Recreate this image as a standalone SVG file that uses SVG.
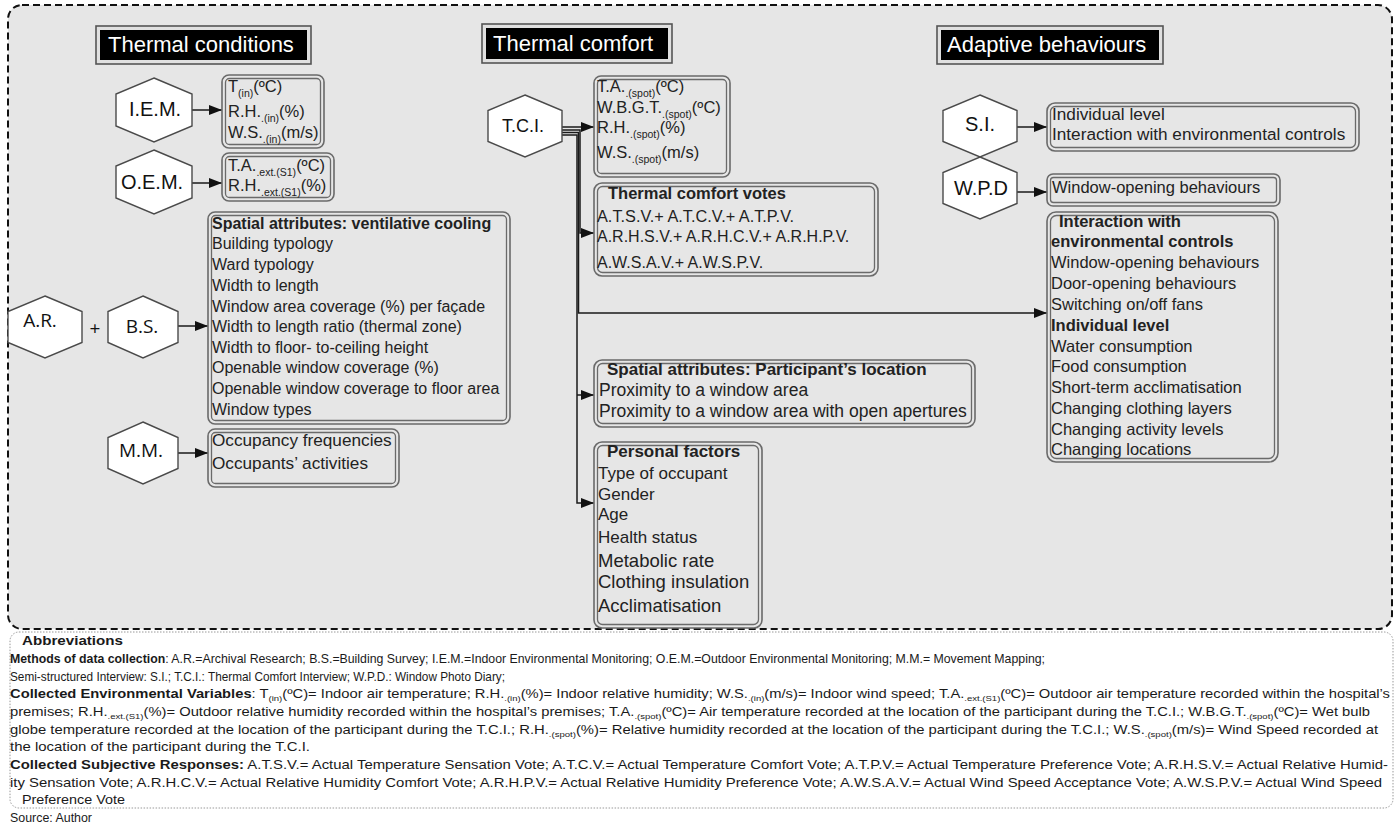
<svg xmlns="http://www.w3.org/2000/svg" width="1396" height="827" viewBox="0 0 1396 827">
<defs>
<marker id="arr" markerUnits="userSpaceOnUse" markerWidth="13" markerHeight="10" refX="13" refY="5" orient="auto">
<path d="M0,0 L13,5 L0,10 z" fill="#111"/>
</marker>
<style>
.hex{fill:#fff;stroke:#4a4a4a;stroke-width:1.4}
.bo{fill:#e6e6e6;stroke:#6a6a6a;stroke-width:1.6}
.bi{fill:none;stroke:#6a6a6a;stroke-width:1.3}
.to{fill:#e0e0e0;stroke:#555;stroke-width:1.6}
.ti{fill:#000}
.tt{font-family:"Liberation Sans",Arial,sans-serif;font-size:22px;fill:#fff}
.t{font-family:"Liberation Sans",Arial,sans-serif;font-size:16.5px;fill:#222}
.b{font-weight:bold}
.h{font-family:"Liberation Sans",Arial,sans-serif;font-size:20px;fill:#111;text-anchor:middle}
.ho{font-family:"Open Sans","Liberation Sans",sans-serif;font-size:19px;fill:#111;text-anchor:middle}
.con{fill:none;stroke:#1a1a1a;stroke-width:1.5}
.ab{font-family:"Liberation Sans",Arial,sans-serif;font-size:12.4px;fill:#1a1a1a}
.sub{font-size:8px}
.s{font-size:10.5px}
</style>
</defs>
<rect x="0" y="0" width="1396" height="827" fill="#fff"/>
<rect x="8" y="5" width="1384" height="624" rx="14" fill="#e6e6e6" stroke="#111" stroke-width="2" stroke-dasharray="7 4"/>
<rect x="10" y="632" width="1383" height="176" rx="9" fill="#fff" stroke="#999" stroke-width="1" stroke-dasharray="1.5 1.5"/>

<g id="title-thermal-conditions"><rect class="to" x="96" y="26" width="215" height="38"/><rect class="ti" x="100" y="30" width="207" height="30"/><text class="tt" x="108" y="52">Thermal conditions</text></g>
<g id="title-thermal-comfort"><rect class="to" x="482" y="24" width="190" height="39"/><rect class="ti" x="486" y="28" width="182" height="31"/><text class="tt" x="493" y="51">Thermal comfort</text></g>
<g id="title-adaptive"><rect class="to" x="937" y="26" width="226" height="38"/><rect class="ti" x="941" y="30" width="218" height="30"/><text class="tt" x="947" y="52">Adaptive behaviours</text></g>

<g id="connectors">
<path class="con" d="M192,110 H222" marker-end="url(#arr)"/>
<path class="con" d="M192,183 H222" marker-end="url(#arr)"/>
<path class="con" d="M178,326 H208" marker-end="url(#arr)"/>
<path class="con" d="M178,453 H208" marker-end="url(#arr)"/>
<path class="con" d="M562,127 H594" marker-end="url(#arr)"/>
<path class="con" d="M562,130 H580 V233 H594" marker-end="url(#arr)"/>
<path class="con" d="M562,132.5 H578.5 V313 H1047" marker-end="url(#arr)"/>
<path class="con" d="M562,135 H577 V503 H594" marker-end="url(#arr)"/>
<path class="con" d="M577,395 H594" marker-end="url(#arr)"/>
<path class="con" d="M1017,127 H1047" marker-end="url(#arr)"/>
<path class="con" d="M1017,192 H1047" marker-end="url(#arr)"/>
</g>

<g id="iem"><polygon class="hex" points="154,78 192,94 192,126 154,142 116,126 116,94"/><text class="h" x="155" y="116">I.E.M.</text></g>
<g id="oem"><polygon class="hex" points="154,150 192,166 192,198 154,214 116,198 116,166"/><text class="h" x="152" y="189">O.E.M.</text></g>
<g id="ar"><polygon class="hex" points="45,296 82,311.5 82,342.5 45,358 8,342.5 8,311.5"/><text class="ho" x="40" y="327">A.R.</text></g>
<text class="ho" x="95" y="335">+</text>
<g id="bs"><polygon class="hex" points="143,296 178,311.5 178,342.5 143,358 108,342.5 108,311.5"/><text class="ho" x="142" y="333">B.S.</text></g>
<g id="mm"><polygon class="hex" points="143,422 178,437.5 178,468.5 143,484 108,468.5 108,437.5"/><text class="ho" x="141" y="457">M.M.</text></g>
<g id="tci"><polygon class="hex" points="525,95 562,110.5 562,141.5 525,157 488,141.5 488,110.5"/><text class="h" style="font-size:18px" x="523" y="132">T.C.I.</text></g>
<g id="si"><polygon class="hex" points="980,95 1017,110.5 1017,141.5 980,157 943,141.5 943,110.5"/><text class="h" x="980" y="131">S.I.</text></g>
<g id="wpd"><polygon class="hex" points="980,157 1017,172.5 1017,203.5 980,219 943,203.5 943,172.5"/><text class="h" x="981" y="195">W.P.D</text></g>

<g id="iem-box"><rect class="bo" x="222" y="75" width="102" height="73" rx="7"/><rect class="bi" x="225.5" y="78.5" width="95" height="66" rx="4"/>
<text class="t" x="228" y="92">T<tspan class="s" dy="5">(in)</tspan><tspan dy="-5">(ºC)</tspan></text>
<text class="t" x="228" y="117">R.H.<tspan class="s" dy="5">.(in)</tspan><tspan dy="-5">(%)</tspan></text>
<text class="t" x="228" y="138">W.S.<tspan class="s" dy="5">.(in)</tspan><tspan dy="-5">(m/s)</tspan></text></g>

<g id="oem-box"><rect class="bo" x="222" y="153" width="112" height="48" rx="7"/><rect class="bi" x="225.5" y="156.5" width="105" height="41" rx="4"/>
<text class="t" x="228" y="171">T.A.<tspan class="s" dy="5">.ext.(S1)</tspan><tspan dy="-5">(ºC)</tspan></text>
<text class="t" x="228" y="191">R.H.<tspan class="s" dy="5">.ext.(S1)</tspan><tspan dy="-5">(%)</tspan></text></g>

<g id="spatial-box"><rect class="bo" x="208" y="212" width="302" height="212" rx="7"/><rect class="bi" x="211.5" y="215.5" width="295" height="205" rx="4"/>
<text class="t b" style="font-size:16px" x="212" y="229">Spatial attributes: ventilative cooling</text>
<text class="t" style="font-size:16px" x="212" y="249">Building typology</text>
<text class="t" style="font-size:16px" x="212" y="270">Ward typology</text>
<text class="t" style="font-size:16px" x="212" y="291">Width to length</text>
<text class="t" style="font-size:16px" x="212" y="312">Window area coverage (%) per façade</text>
<text class="t" style="font-size:16px" x="212" y="332">Width to length ratio (thermal zone)</text>
<text class="t" style="font-size:16px" x="212" y="353">Width to floor- to-ceiling height</text>
<text class="t" style="font-size:16px" x="212" y="373">Openable window coverage (%)</text>
<text class="t" style="font-size:16px" x="212" y="394">Openable window coverage to floor area</text>
<text class="t" style="font-size:16px" x="212" y="415">Window types</text></g>

<g id="mm-box"><rect class="bo" x="208" y="429" width="191" height="58" rx="7"/><rect class="bi" x="211.5" y="432.5" width="184" height="51" rx="4"/>
<text class="t" style="font-size:17.2px" x="212" y="446">Occupancy frequencies</text>
<text class="t" style="font-size:17.2px" x="212" y="469">Occupants’ activities</text></g>

<g id="spot-box"><rect class="bo" x="594" y="76" width="136" height="101" rx="7"/><rect class="bi" x="597.5" y="79.5" width="129" height="94" rx="4"/>
<text class="t" x="597" y="92">T.A.<tspan class="s" dy="5">.(spot)</tspan><tspan dy="-5">(ºC)</tspan></text>
<text class="t" x="597" y="113">W.B.G.T.<tspan class="s" dy="5">.(spot)</tspan><tspan dy="-5">(ºC)</tspan></text>
<text class="t" x="597" y="133">R.H.<tspan class="s" dy="5">.(spot)</tspan><tspan dy="-5">(%)</tspan></text>
<text class="t" x="597" y="158">W.S.<tspan class="s" dy="5">.(spot)</tspan><tspan dy="-5">(m/s)</tspan></text></g>

<g id="votes-box"><rect class="bo" x="594" y="183" width="284" height="93" rx="8"/><rect class="bi" x="597.5" y="186.5" width="277" height="86" rx="5"/>
<text class="t b" x="608" y="199">Thermal comfort votes</text>
<text class="t" style="font-size:16.3px" x="597" y="222">A.T.S.V.+ A.T.C.V.+ A.T.P.V.</text>
<text class="t" style="font-size:16px" x="597" y="242">A.R.H.S.V.+ A.R.H.C.V.+ A.R.H.P.V.</text>
<text class="t" style="font-size:16px" x="597" y="268">A.W.S.A.V.+ A.W.S.P.V.</text></g>

<g id="location-box"><rect class="bo" x="594" y="360" width="381" height="67" rx="8"/><rect class="bi" x="597.5" y="363.5" width="374" height="60" rx="5"/>
<text class="t b" style="font-size:17px" x="607" y="375">Spatial attributes: Participant’s location</text>
<text class="t" style="font-size:17.5px" x="599" y="396">Proximity to a window area</text>
<text class="t" style="font-size:17.5px" x="599" y="417">Proximity to a window area with open apertures</text></g>

<g id="personal-box"><rect class="bo" x="594" y="442" width="168" height="186" rx="8"/><rect class="bi" x="597.5" y="445.5" width="161" height="179" rx="5"/>
<text class="t b" style="font-size:17px" x="607" y="457">Personal factors</text>
<text class="t" style="font-size:17px" x="598" y="479">Type of occupant</text>
<text class="t" style="font-size:17px" x="598" y="500">Gender</text>
<text class="t" style="font-size:17px" x="598" y="520">Age</text>
<text class="t" style="font-size:17px" x="598" y="543">Health status</text>
<text class="t" style="font-size:18.5px" x="598" y="567">Metabolic rate</text>
<text class="t" style="font-size:18.5px" x="598" y="588">Clothing insulation</text>
<text class="t" style="font-size:18.5px" x="598" y="612">Acclimatisation</text></g>

<g id="si-box"><rect class="bo" x="1047" y="103" width="312" height="48" rx="8"/><rect class="bi" x="1050.5" y="106.5" width="305" height="41" rx="5"/>
<text class="t" style="font-size:17.2px" x="1052" y="120">Individual level</text>
<text class="t" style="font-size:17.2px" x="1052" y="140">Interaction with environmental controls</text></g>

<g id="wpd-box"><rect class="bo" x="1047" y="174" width="233" height="32" rx="6"/><rect class="bi" x="1050.5" y="177.5" width="226" height="25" rx="3"/>
<text class="t" x="1052" y="193">Window-opening behaviours</text></g>

<g id="behaviour-box"><rect class="bo" x="1047" y="212" width="231" height="250" rx="9"/><rect class="bi" x="1050.5" y="215.5" width="224" height="243" rx="6"/>
<text class="t b" x="1059" y="227">Interaction with</text>
<text class="t b" x="1051" y="247">environmental controls</text>
<text class="t" x="1051" y="268">Window-opening behaviours</text>
<text class="t" x="1051" y="289">Door-opening behaviours</text>
<text class="t" x="1051" y="310">Switching on/off fans</text>
<text class="t b" x="1051" y="331">Individual level</text>
<text class="t" x="1051" y="352">Water consumption</text>
<text class="t" x="1051" y="372">Food consumption</text>
<text class="t" x="1051" y="393">Short-term acclimatisation</text>
<text class="t" x="1051" y="414">Changing clothing layers</text>
<text class="t" x="1051" y="435">Changing activity levels</text>
<text class="t" x="1051" y="455">Changing locations</text></g>

<g id="abbreviations">
<text class="ab b" x="22" y="645" textLength="101" lengthAdjust="spacingAndGlyphs">Abbreviations</text>
<text class="ab" x="10" y="663" textLength="1035" lengthAdjust="spacingAndGlyphs"><tspan class="b">Methods of data collection</tspan>: A.R.=Archival Research; B.S.=Building Survey; I.E.M.=Indoor Environmental Monitoring; O.E.M.=Outdoor Environmental Monitoring; M.M.= Movement Mapping;</text>
<text class="ab" x="10" y="681" textLength="495" lengthAdjust="spacingAndGlyphs">Semi-structured Interview: S.I.; T.C.I.: Thermal Comfort Interview; W.P.D.: Window Photo Diary;</text>
<text class="ab" x="10" y="698" textLength="1380" lengthAdjust="spacingAndGlyphs"><tspan class="b">Collected Environmental Variables</tspan>: T<tspan class="sub" dy="3">(in)</tspan><tspan dy="-3">(ºC)= Indoor air temperature; R.H.</tspan><tspan class="sub" dy="3">.(in)</tspan><tspan dy="-3">(%)= Indoor relative humidity; W.S.</tspan><tspan class="sub" dy="3">.(in)</tspan><tspan dy="-3">(m/s)= Indoor wind speed; T.A.</tspan><tspan class="sub" dy="3">.ext.(S1)</tspan><tspan dy="-3">(ºC)= Outdoor air temperature recorded within the hospital’s</tspan></text>
<text class="ab" x="10" y="716" textLength="1360" lengthAdjust="spacingAndGlyphs">premises; R.H.<tspan class="sub" dy="3">.ext.(S1)</tspan><tspan dy="-3">(%)= Outdoor relative humidity recorded within the hospital’s premises; T.A.</tspan><tspan class="sub" dy="3">.(spot)</tspan><tspan dy="-3">(ºC)= Air temperature recorded at the location of the participant during the T.C.I.; W.B.G.T.</tspan><tspan class="sub" dy="3">.(spot)</tspan><tspan dy="-3">(ºC)= Wet bulb</tspan></text>
<text class="ab" x="10" y="734" textLength="1368" lengthAdjust="spacingAndGlyphs">globe temperature recorded at the location of the participant during the T.C.I.; R.H.<tspan class="sub" dy="3">.(spot)</tspan><tspan dy="-3">(%)= Relative humidity recorded at the location of the participant during the T.C.I.; W.S.</tspan><tspan class="sub" dy="3">.(spot)</tspan><tspan dy="-3">(m/s)= Wind Speed recorded at</tspan></text>
<text class="ab" x="10" y="751" textLength="300" lengthAdjust="spacingAndGlyphs">the location of the participant during the T.C.I.</text>
<text class="ab" x="10" y="769" textLength="1378" lengthAdjust="spacingAndGlyphs"><tspan class="b">Collected Subjective Responses:</tspan> A.T.S.V.= Actual Temperature Sensation Vote; A.T.C.V.= Actual Temperature Comfort Vote; A.T.P.V.= Actual Temperature Preference Vote; A.R.H.S.V.= Actual Relative Humid-</text>
<text class="ab" x="10" y="787" textLength="1372" lengthAdjust="spacingAndGlyphs">ity Sensation Vote; A.R.H.C.V.= Actual Relative Humidity Comfort Vote; A.R.H.P.V.= Actual Relative Humidity Preference Vote; A.W.S.A.V.= Actual Wind Speed Acceptance Vote; A.W.S.P.V.= Actual Wind Speed</text>
<text class="ab" x="22" y="804" textLength="103" lengthAdjust="spacingAndGlyphs">Preference Vote</text>
<text class="ab" x="10" y="822" textLength="82" lengthAdjust="spacingAndGlyphs">Source: Author</text>
</g>
</svg>
